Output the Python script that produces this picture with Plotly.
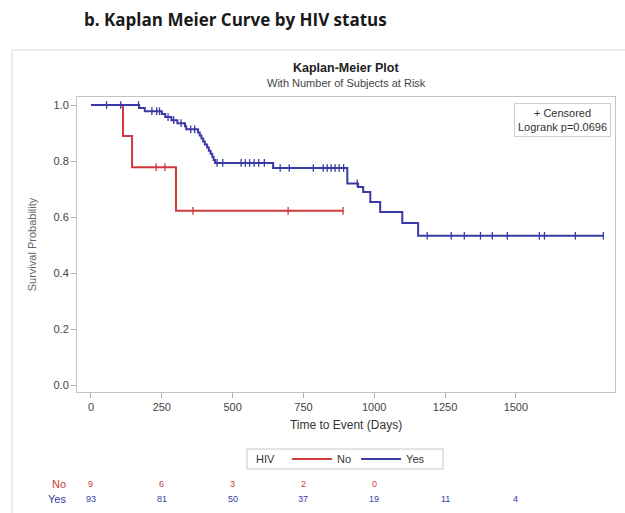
import numpy as np
import plotly.graph_objects as go

# ---------------- data ----------------
groups = ["No", "Yes"]

# HIV = No
no_event_days = [113, 145, 300]
no_survival = [0.889, 0.778, 0.622]
no_censor_days = [230, 261, 360, 696, 890]
no_last_day = 890

# HIV = Yes
yes_event_days = [170, 190, 250, 262, 284, 305, 332, 336,
                  378, 384, 390, 396, 402, 410, 416, 422, 428, 433, 438,
                  643, 905, 943, 961, 986, 1021, 1099, 1155]
yes_survival = [0.989, 0.978, 0.968, 0.957, 0.946, 0.935, 0.924, 0.913,
                0.902, 0.891, 0.880, 0.870, 0.859, 0.848, 0.837, 0.826, 0.815, 0.804, 0.793,
                0.775, 0.720, 0.707, 0.689, 0.654, 0.618, 0.579, 0.533]
yes_censor_days = [55, 105, 168, 215, 232, 242, 272, 292, 318, 352, 366,
                   445, 465, 530, 545, 560, 576, 592, 612,
                   668, 700, 785, 820, 834, 848, 862, 876, 892,
                   940, 1187, 1272, 1318, 1375, 1417, 1470, 1583, 1601, 1710, 1809]
yes_last_day = 1809

risk_days = [0, 250, 500, 750, 1000, 1250, 1500]
no_at_risk = [9, 6, 3, 2, 0]
yes_at_risk = [93, 81, 50, 37, 19, 11, 4]

x_ticks = [0, 250, 500, 750, 1000, 1250, 1500]
y_ticks = [0.0, 0.2, 0.4, 0.6, 0.8, 1.0]

RED = "#cf3a3c"
BLUE = "#3a3aa6"

# ---------------- layout geometry (pixels) ----------------
W, H = 625, 513
PL, PR, PT, PB = 77, 615, 97, 392


def px_x(px):
    return (px - PL) / (PR - PL)


def px_y(py):
    return (PB - py) / (PB - PT)


def step_value(days, surv, t):
    d = np.array(days)
    s = np.array(surv)
    idx = np.searchsorted(d, t, side="right") - 1
    return 1.0 if idx < 0 else float(s[idx])


fig = go.Figure()

series = [
    ("No", no_event_days, no_survival, no_censor_days, no_last_day, RED),
    ("Yes", yes_event_days, yes_survival, yes_censor_days, yes_last_day, BLUE),
]

for name, ed, sv, cd, last, col in series:
    xs = [0] + list(ed) + [last]
    ys = [1.0] + list(sv) + [sv[-1]]
    fig.add_trace(go.Scatter(x=xs, y=ys, mode="lines", line_shape="hv",
                             line=dict(color=col, width=2), name=name,
                             hoverinfo="skip"))

for name, ed, sv, cd, last, col in series:
    cy = [step_value(ed, sv, t) for t in cd]
    fig.add_trace(go.Scatter(x=cd, y=cy, mode="markers", showlegend=False,
                             marker=dict(symbol="line-ns-open", size=5.5, color=col,
                                         line=dict(color=col, width=1.3)),
                             hoverinfo="skip"))

axis_common = dict(showline=True, linecolor="#c4c4c4", linewidth=1, mirror=True,
                   ticks="outside", ticklen=5, tickcolor="#b0b0b0",
                   showgrid=False, zeroline=False,
                   tickfont=dict(family="Liberation Sans, Arial", size=11, color="#444"))

fig.update_xaxes(range=[-49.4, 1850], tickvals=x_ticks,
                 title=dict(text="Time to Event (Days)", standoff=8,
                            font=dict(family="Liberation Sans, Arial", size=12, color="#333")),
                 **axis_common)
fig.update_yaxes(range=[-0.025, 1.0286], tickvals=y_ticks, ticktext=[f"{v:.1f}" for v in y_ticks],
                 title=dict(text="Survival Probability", standoff=14,
                            font=dict(family="Liberation Sans, Arial", size=11, color="#666")),
                 **axis_common)

ann = []
ann.append(dict(xref="paper", yref="paper", x=px_x(82), y=px_y(20), xanchor="left", yanchor="middle",
                text="<b>b. Kaplan Meier Curve by HIV status</b>", showarrow=False,
                font=dict(family="Open Sans", size=17, color="#1a1a1a")))
ann.append(dict(xref="paper", yref="paper", x=0.5, y=px_y(68), xanchor="center", yanchor="middle",
                text="<b>Kaplan-Meier Plot</b>", showarrow=False,
                font=dict(family="Liberation Sans, Arial", size=12.5, color="#222")))
ann.append(dict(xref="paper", yref="paper", x=0.5, y=px_y(83), xanchor="center", yanchor="middle",
                text="With Number of Subjects at Risk", showarrow=False,
                font=dict(family="Liberation Sans, Arial", size=11, color="#444")))
ann.append(dict(xref="paper", yref="paper", x=px_x(611), y=px_y(103), xanchor="right", yanchor="top",
                text="+ Censored<br>Logrank p=0.0696", showarrow=False, align="center",
                bordercolor="#d0d0d0", borderwidth=1, borderpad=3, bgcolor="white",
                font=dict(family="Liberation Sans, Arial", size=11, color="#333")))
# legend title
ann.append(dict(xref="paper", yref="paper", x=px_x(254), y=px_y(459), xanchor="left", yanchor="middle",
                text="HIV", showarrow=False,
                font=dict(family="Liberation Sans, Arial", size=11, color="#333")))

# at-risk table
for lab, vals, col, py in [("No", no_at_risk, RED, 484), ("Yes", yes_at_risk, BLUE, 499)]:
    ann.append(dict(xref="paper", yref="paper", x=px_x(68), y=px_y(py), xanchor="right",
                    yanchor="middle", text=lab, showarrow=False,
                    font=dict(family="Liberation Sans, Arial", size=11, color=col)))
    for d, v in zip(risk_days, vals):
        ann.append(dict(xref="x", yref="paper", x=d, y=px_y(py), xanchor="center",
                        yanchor="middle", text=str(v), showarrow=False,
                        font=dict(family="Liberation Sans, Arial", size=9, color=col)))

shapes = [
    dict(type="rect", xref="paper", yref="paper", x0=px_x(12), x1=px_x(640),
         y0=px_y(530), y1=px_y(50), line=dict(color="#dcdcdc", width=1),
         fillcolor="rgba(0,0,0,0)", layer="below"),
    dict(type="rect", xref="paper", yref="paper", x0=px_x(247), x1=px_x(443),
         y0=px_y(469), y1=px_y(449), line=dict(color="#c8c8c8", width=1),
         fillcolor="rgba(0,0,0,0)", layer="below"),
]

fig.update_layout(
    width=W, height=H,
    margin=dict(l=PL, r=W - PR, t=PT, b=H - PB),
    paper_bgcolor="white", plot_bgcolor="white",
    annotations=ann, shapes=shapes,
    legend=dict(orientation="h", xref="paper", yref="paper",
                x=px_x(287), y=px_y(459), xanchor="left", yanchor="middle",
                font=dict(family="Liberation Sans, Arial", size=11, color="#333"),
                borderwidth=0, bgcolor="rgba(0,0,0,0)",
                itemwidth=40, tracegroupgap=0),
    showlegend=True,
)

fig.write_html("out.html")
